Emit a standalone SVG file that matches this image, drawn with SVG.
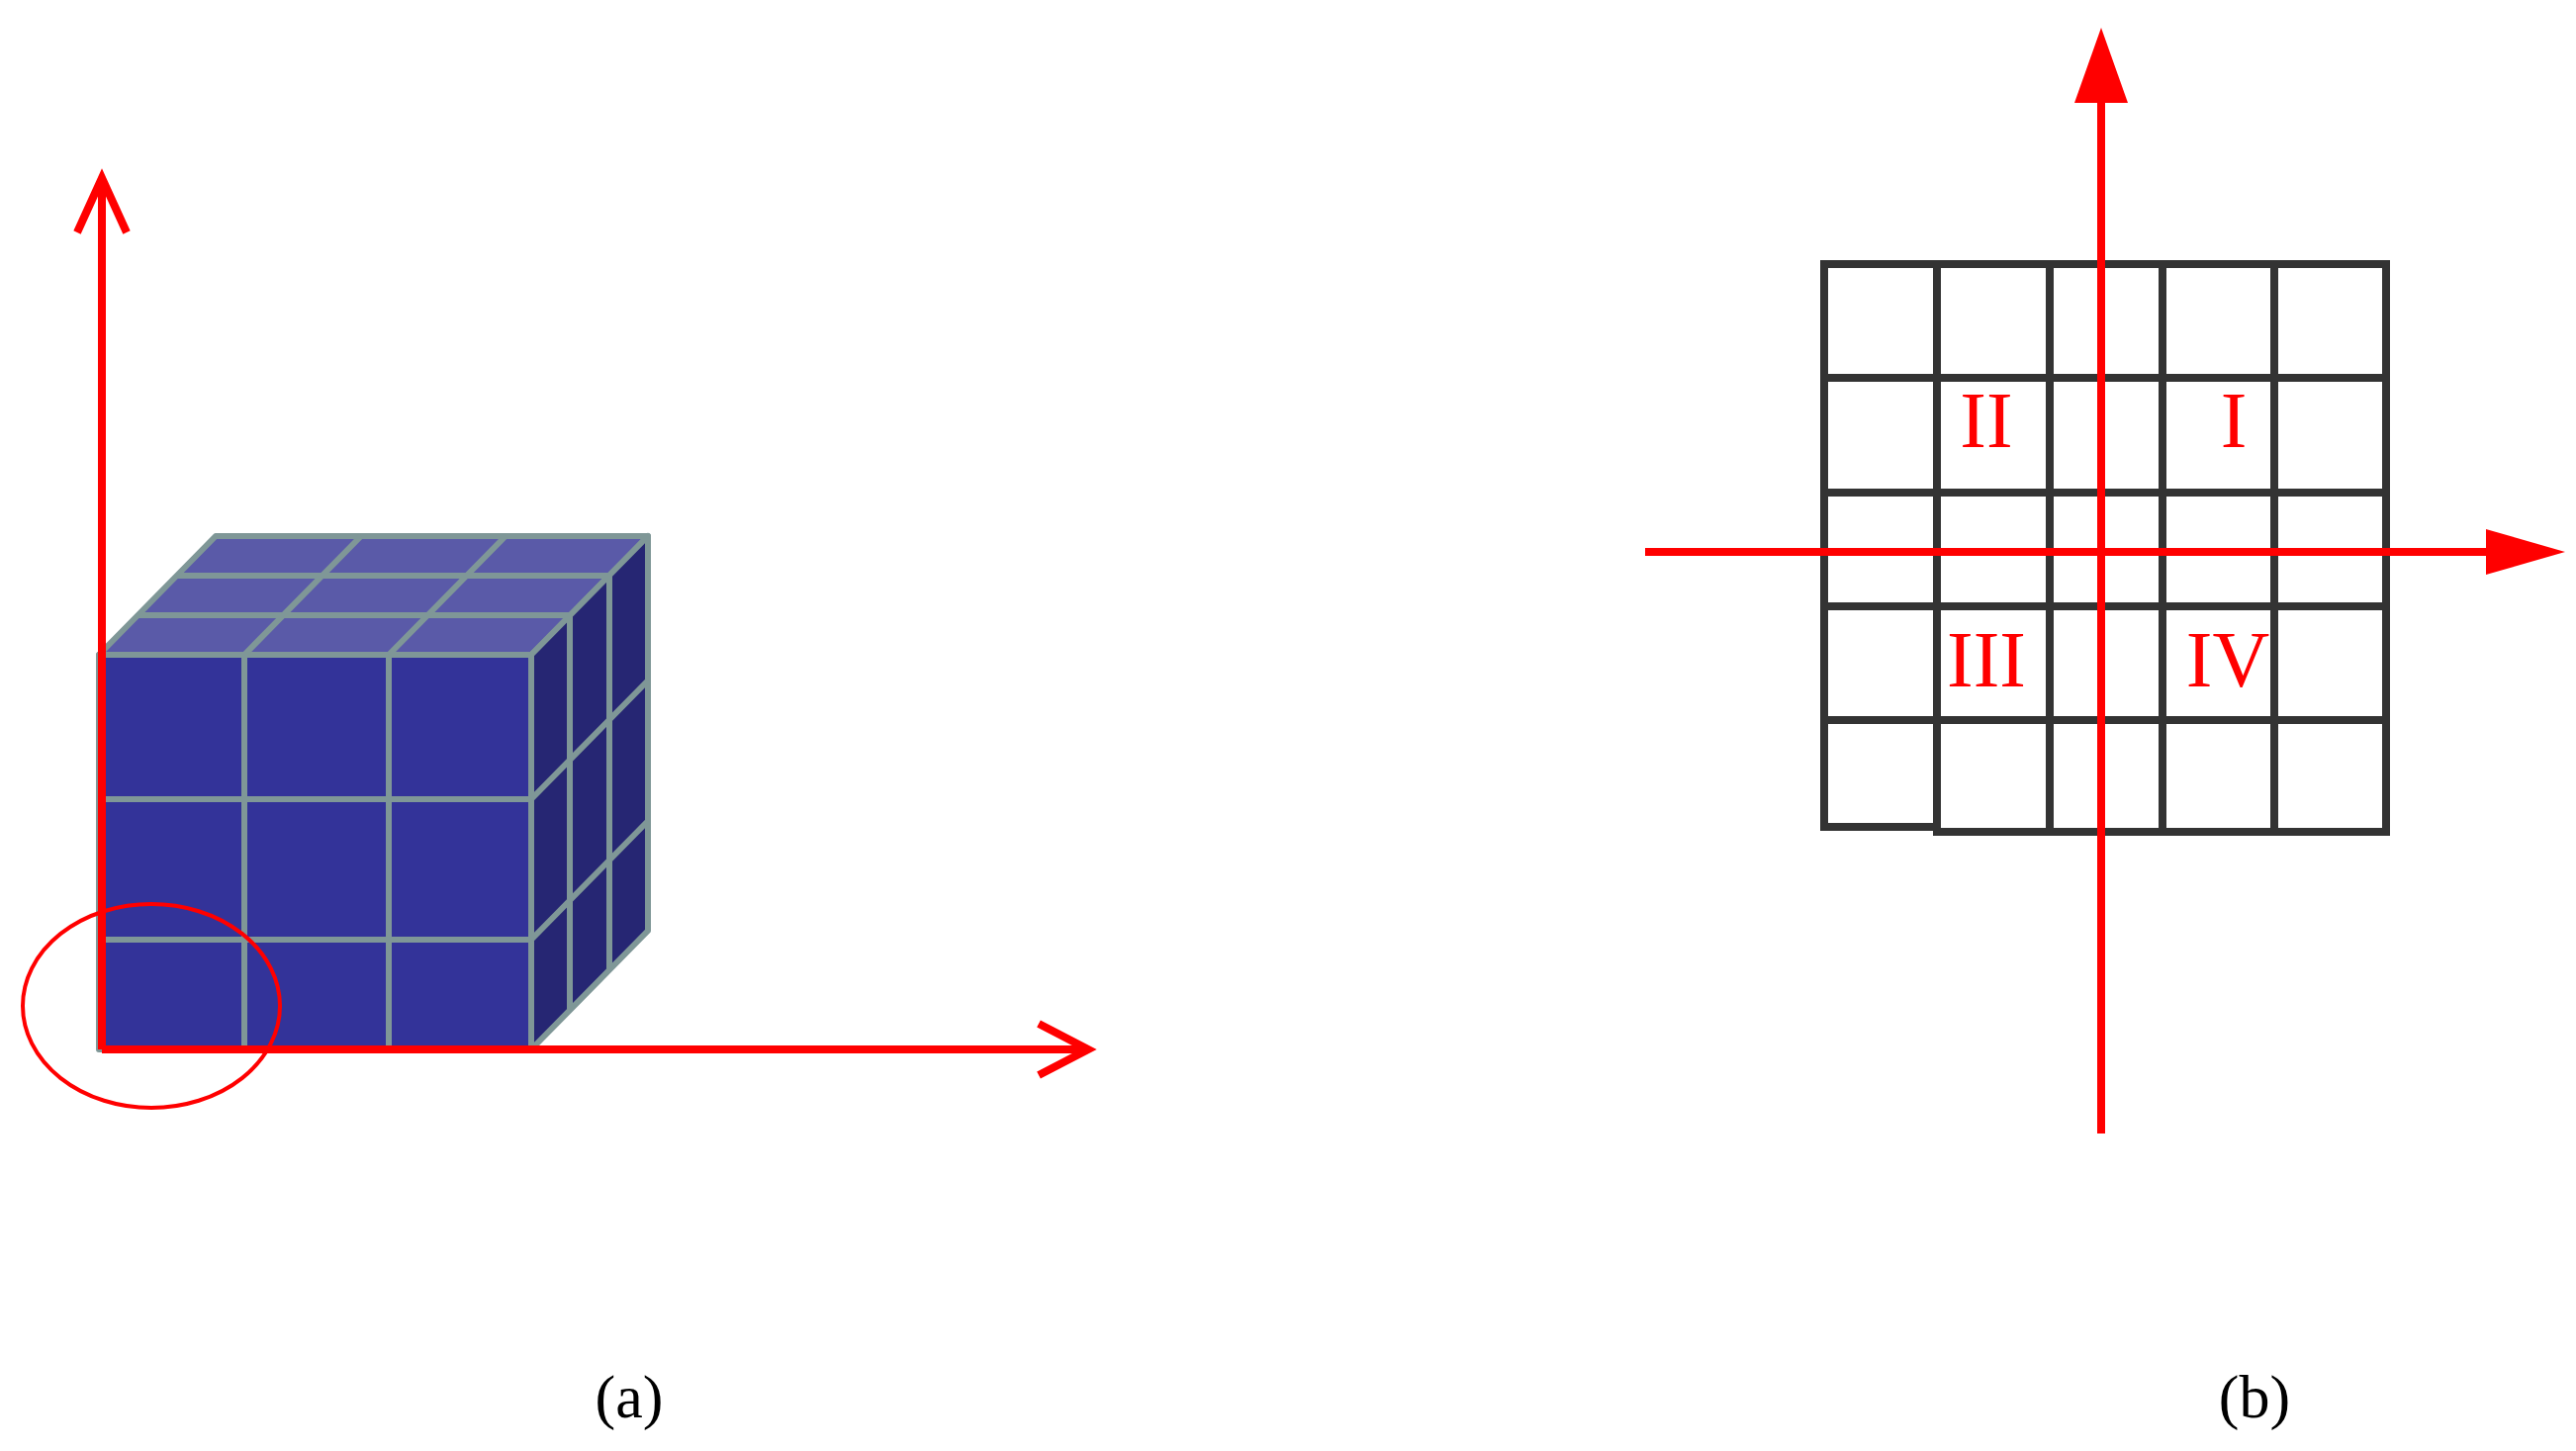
<svg xmlns="http://www.w3.org/2000/svg" width="2604" height="1467" viewBox="0 0 2604 1467">
<style>
.g{stroke:#7f9797;stroke-width:6;stroke-linejoin:round}
.f{fill:#333399}.t{fill:#5a5aa8}.r{fill:#262673}
.ax{stroke:#ff0000;stroke-width:8;fill:none}
.grid{stroke:#333;stroke-width:8;fill:none;stroke-linecap:square}
.lab{font-family:"Liberation Serif",serif;fill:#ff0000;font-size:80px;text-anchor:middle}
.cap{font-family:"Liberation Serif",serif;fill:#000;font-size:62px;text-anchor:middle}
</style>
<g id="cube">
<g class="g">
<!-- top face cells -->
<path class="t" d="M100,662 L218,542 L655,542 L537,662 Z"/>
<path class="r" d="M537,662 L655,542 L655,941 L537,1061 Z"/>
<path class="f" d="M100,662 H537 V1061 H100 Z"/>
</g>
<g class="g" fill="none">
<path d="M247,662 L365,542 M393,662 L511,542 M139,622 L576,622 M179,582 L616,582"/>
<path d="M576,622 V1021 M616,582 V981 M537,808 L655,688 M537,950 L655,830"/>
<path d="M247,662 V1061 M393,662 V1061 M100,808 H537 M100,950 H537"/>
</g>
</g>
<g id="connectors">
<path class="ax" d="M103,1061 V180 M78,235 L103,180 L128,235"/>
<path class="ax" d="M103,1061 H1100 M1050,1035 L1100,1061 L1050,1087"/>
<ellipse cx="153" cy="1017" rx="130" ry="103" fill="none" stroke="#ff0000" stroke-width="4"/>
</g>
<g id="grid">
<path class="grid" d="M1844,267 H2412 M1844,382 H2412 M1844,498 H2412 M1844,613 H2412 M1844,728 H2412 M1844,836 H1958 M1958,841 H2412 M1844,267 V836 M1958,267 V841 M2072,267 V841 M2186,267 V841 M2299,267 V841 M2412,267 V841"/>
</g>
<g id="axes-b">
<path stroke="#ff0000" stroke-width="8" d="M2124,1146 V100"/>
<path fill="#ff0000" d="M2124,28 L2151,104 L2097,104 Z"/>
<path stroke="#ff0000" stroke-width="8" d="M1663,558 H2515"/>
<path fill="#ff0000" d="M2593,558 L2513,535 L2513,581 Z"/>
</g>
<g id="labels">
<text class="lab" x="2008" y="452">II</text>
<text class="lab" x="2258" y="452">I</text>
<text class="lab" x="2008" y="694">III</text>
<text class="lab" x="2252" y="694">IV</text>
<text class="cap" x="636" y="1433">(a)</text>
<text class="cap" x="2279" y="1433">(b)</text>
</g>
</svg>
